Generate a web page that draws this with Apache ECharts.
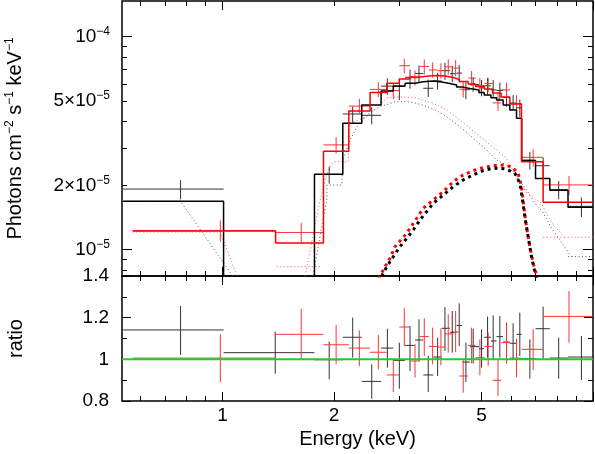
<!DOCTYPE html>
<html>
<head>
<meta charset="utf-8">
<script src="https://cdn.jsdelivr.net/npm/echarts@6.0.0/dist/echarts.min.js"></script>
<style>
  html, body { margin: 0; padding: 0; background: #fff; }
  #chart { width: 595px; height: 454px; }
</style>
</head>
<body>
<div id="chart"></div>
<script>
// axis ranges (keV, photons cm^-2 s^-1 keV^-1, ratio)
const energyRange = [0.535, 10];
const fluxRange = [7.52e-6, 1.471e-4];
const ratioRange = [0.8, 1.4];

// tick marks / labels
const energyMajor = [1, 10];
const energyMinor = [0.6, 0.7, 0.8, 0.9, 2, 3, 4, 5, 6, 7, 8, 9];
const energyBottomMajor = [1, 2, 5, 10];
const energyBottomMinor = [0.6, 0.7, 0.8, 0.9, 3, 4, 6, 7, 8, 9];
const energyLabels = [1, 2, 5];
const fluxMajor = [1e-5, 1e-4];
const fluxMinor = [8e-6, 9e-6, 2e-5, 3e-5, 4e-5, 5e-5, 6e-5, 7e-5, 8e-5, 9e-5];
const fluxLabels = [1e-5, 2e-5, 5e-5, 1e-4];

// spectrum 1 (black)
const blackEdges = [0.539, 1.006, 1.770, 2.111, 2.375, 2.678, 2.890, 3.108, 3.307, 3.482, 3.704, 3.903, 4.109, 4.283,
  4.435, 4.652, 4.919, 5.084, 5.300, 5.490, 5.720, 5.963, 6.216, 6.420, 6.996, 7.645, 8.561, 10.0];
const blackCentre = [0.770, 1.387, 1.940, 2.245, 2.527, 2.785, 3.000, 3.206, 3.390, 3.591, 3.806, 3.984, 4.168, 4.353,
  4.538, 4.748, 5.002, 5.192, 5.376, 5.604, 5.842, 6.086, 6.345, 6.754, 7.334, 8.079, 9.305];
const blackModel = [1.687e-5, 5.5e-6, 2.26e-5, 3.92e-5, 4.78e-5, 5.56e-5, 5.87e-5, 6.04e-5, 6.15e-5, 6.19e-5, 6.13e-5,
  6.03e-5, 5.93e-5, 5.80e-5, 5.71e-5, 5.62e-5, 5.47e-5, 5.32e-5, 5.17e-5, 5.04e-5, 4.78e-5, 4.53e-5, 4.14e-5,
  2.62e-5, 2.16e-5, 1.90e-5, 1.58e-5];
const blackFlux = [1.925e-5, 5.68e-6, 2.255e-5, 4.336e-5, 4.273e-5, 5.86e-5, 5.841e-5, 6.445e-5, 6.722e-5, 5.726e-5,
  6.197e-5, 6.928e-5, 6.701e-5, 6.745e-5, 5.636e-5, 5.963e-5, 5.749e-5, 5.884e-5, 5.625e-5, 5.589e-5, 5.177e-5,
  4.879e-5, 4.637e-5, 2.628e-5, 2.478e-5, 1.911e-5, 1.597e-5];
const blackFluxLo = [1.722e-5, 5.12e-6, 2.043e-5, 3.951e-5, 3.877e-5, 5.338e-5, 5.042e-5, 5.702e-5, 6.101e-5, 5.218e-5,
  5.64e-5, 6.271e-5, 6.12e-5, 6.171e-5, 5.088e-5, 5.508e-5, 5.251e-5, 5.363e-5, 5.17e-5, 5.08e-5, 4.689e-5,
  4.516e-5, 4.206e-5, 2.376e-5, 2.166e-5, 1.723e-5, 1.424e-5];
const blackFluxHi = [2.119e-5, 6.23e-6, 2.452e-5, 4.704e-5, 4.665e-5, 6.377e-5, 6.34e-5, 7.006e-5, 7.331e-5, 6.289e-5,
  6.768e-5, 7.544e-5, 7.306e-5, 7.36e-5, 6.167e-5, 6.446e-5, 6.258e-5, 6.411e-5, 6.261e-5, 6.088e-5, 5.621e-5,
  5.314e-5, 5.067e-5, 2.872e-5, 2.706e-5, 2.098e-5, 1.757e-5];
const blackRatio = [1.141, 1.032, 0.998, 1.106, 0.894, 1.054, 0.995, 1.067, 1.093, 0.925, 1.011, 1.149, 1.130, 1.163,
  0.987, 1.061, 1.051, 1.106, 1.088, 1.109, 1.083, 1.077, 1.120, 1.003, 1.147, 1.006, 1.011];
const blackRatioLo = [1.021, 0.931, 0.904, 1.008, 0.811, 0.960, 0.859, 0.944, 0.992, 0.843, 0.920, 1.040, 1.032, 1.064,
  0.891, 0.980, 0.960, 1.008, 1.000, 1.008, 0.981, 0.997, 1.016, 0.907, 1.003, 0.907, 0.901];
const blackRatioHi = [1.256, 1.133, 1.085, 1.200, 0.976, 1.147, 1.080, 1.160, 1.192, 1.016, 1.104, 1.251, 1.232, 1.269,
  1.080, 1.147, 1.144, 1.205, 1.211, 1.208, 1.176, 1.173, 1.224, 1.096, 1.253, 1.104, 1.112];

// spectrum 2 (red)
const redEdges = [0.572, 1.390, 1.872, 2.191, 2.501, 2.775, 3.000, 3.206, 3.411, 3.607, 3.806, 3.984, 4.194, 4.353,
  4.603, 4.819, 5.090, 5.360, 5.650, 5.963, 6.410, 7.334, 10.0];
const redCentre = [0.986, 1.630, 2.025, 2.340, 2.633, 2.890, 3.094, 3.307, 3.503, 3.690, 3.885, 4.066, 4.257, 4.462,
  4.701, 4.950, 5.212, 5.540, 5.842, 6.216, 6.893, 8.614];
const redModel = [1.224e-5, 1.075e-5, 2.90e-5, 4.48e-5, 5.47e-5, 6.04e-5, 6.33e-5, 6.47e-5, 6.54e-5, 6.57e-5, 6.54e-5,
  6.43e-5, 6.30e-5, 6.16e-5, 5.99e-5, 5.84e-5, 5.68e-5, 5.44e-5, 5.21e-5, 4.83e-5, 2.59e-5, 1.67e-5];
const redFlux = [1.231e-5, 1.204e-5, 3.103e-5, 4.722e-5, 5.656e-5, 5.587e-5, 7.311e-5, 6.418e-5, 7.253e-5, 6.977e-5,
  6.926e-5, 7.214e-5, 7.125e-5, 5.667e-5, 6.391e-5, 5.887e-5, 6.032e-5, 4.891e-5, 5.627e-5, 4.859e-5, 2.714e-5, 2.014e-5];
const redFluxLo = [1.091e-5, 1.075e-5, 2.830e-5, 4.337e-5, 5.207e-5, 5.092e-5, 6.735e-5, 5.901e-5, 6.645e-5, 6.412e-5,
  6.350e-5, 6.636e-5, 6.521e-5, 5.174e-5, 5.876e-5, 5.390e-5, 5.498e-5, 4.483e-5, 5.111e-5, 4.419e-5, 2.458e-5, 1.804e-5];
const redFluxHi = [1.371e-5, 1.336e-5, 3.379e-5, 5.103e-5, 6.110e-5, 6.058e-5, 7.887e-5, 6.936e-5, 7.828e-5, 7.569e-5,
  7.514e-5, 7.819e-5, 7.762e-5, 6.160e-5, 6.900e-5, 6.401e-5, 6.407e-5, 5.440e-5, 6.085e-5, 5.308e-5, 2.963e-5, 2.218e-5];
const redRatio = [1.006, 1.120, 1.070, 1.054, 1.034, 0.925, 1.155, 0.992, 1.109, 1.062, 1.059, 1.122, 1.131, 0.920,
  1.067, 1.008, 1.062, 0.899, 1.080, 1.006, 1.048, 1.206];
const redRatioLo = [0.891, 1.000, 0.976, 0.968, 0.952, 0.843, 1.064, 0.912, 1.016, 0.976, 0.971, 1.032, 1.035, 0.840,
  0.981, 0.923, 0.968, 0.824, 0.981, 0.915, 0.949, 1.080];
const redRatioHi = [1.120, 1.243, 1.165, 1.139, 1.117, 1.003, 1.246, 1.072, 1.197, 1.152, 1.149, 1.216, 1.232, 1.000,
  1.152, 1.096, 1.128, 1.000, 1.168, 1.099, 1.144, 1.328];

// model components [keV, flux]
const blackSoft = [[0.539, 1.687e-5], [0.770, 1.687e-5], [1.006, 8.66e-6], [1.387, 3.9e-6]];
const redSoft = [[0.572, 1.21e-5], [0.986, 1.21e-5], [1.093, 7.5e-6], [1.39, 2.5e-6]];
const blackCont = [[1.70, 5.4e-6], [1.756, 7.52e-6], [1.834, 1.172e-5], [1.912, 1.711e-5], [1.912, 2.01e-5],
  [2.098, 2.01e-5], [2.115, 2.637e-5], [2.209, 3.273e-5], [2.321, 3.849e-5], [2.501, 4.43e-5], [2.693, 4.726e-5],
  [2.916, 4.935e-5], [3.108, 4.962e-5], [3.307, 4.882e-5], [3.531, 4.726e-5], [3.757, 4.528e-5], [4.026, 4.21e-5],
  [4.372, 3.779e-5], [4.74, 3.344e-5], [5.161, 2.937e-5], [5.49, 2.637e-5], [5.842, 2.498e-5], [6.216, 2.194e-5],
  [6.62, 1.907e-5], [6.96, 1.656e-5], [7.31, 1.503e-5], [7.725, 1.264e-5], [8.24, 1.075e-5], [8.75, 9.27e-6]];
const blackContTail = [[8.561, 9.27e-6], [10.0, 9.27e-6]];
const redContLow = [[1.401, 8.32e-6], [1.853, 8.32e-6]];
const redCont = [[1.62, 5.6e-6], [1.671, 7.52e-6], [1.756, 1.172e-5], [1.834, 1.711e-5], [1.915, 2.291e-5],
  [1.988, 2.588e-5], [2.18, 2.588e-5], [2.209, 3.934e-5], [2.45, 4.2e-5], [2.775, 5.154e-5], [3.013, 5.226e-5],
  [3.342, 5.154e-5], [3.694, 4.882e-5], [4.026, 4.528e-5], [4.372, 4.063e-5], [4.95, 3.392e-5], [5.49, 2.937e-5],
  [5.842, 2.694e-5], [6.066, 2.367e-5], [6.629, 1.846e-5], [7.256, 1.651e-5], [7.56, 1.428e-5], [7.887, 1.282e-5],
  [8.386, 1.143e-5]];
const redContTail = [[7.334, 1.143e-5], [10.0, 1.143e-5]];
const blackHard = [[2.62, 6.5e-6], [2.689, 7.52e-6], [2.775, 8.32e-6], [2.89, 9.27e-6], [3.013, 1.033e-5],
  [3.272, 1.238e-5], [3.411, 1.378e-5], [3.704, 1.651e-5], [3.942, 1.805e-5], [4.194, 1.976e-5], [4.462, 2.125e-5],
  [4.748, 2.243e-5], [5.052, 2.35e-5], [5.376, 2.411e-5], [5.663, 2.411e-5], [5.902, 2.367e-5], [6.151, 2.284e-5],
  [6.345, 2.05e-5], [6.453, 1.711e-5], [6.546, 1.428e-5], [6.682, 1.151e-5], [6.823, 9.27e-6], [6.965, 7.88e-6],
  [7.05, 7.0e-6]];
const redHard = [[2.6, 6.8e-6], [2.661, 7.52e-6], [2.745, 8.32e-6], [2.831, 9.11e-6], [2.921, 1.033e-5],
  [3.141, 1.194e-5], [3.342, 1.404e-5], [3.482, 1.564e-5], [3.704, 1.711e-5], [3.942, 1.872e-5], [4.194, 2.086e-5],
  [4.462, 2.243e-5], [4.748, 2.35e-5], [5.052, 2.427e-5], [5.376, 2.48e-5], [5.72, 2.498e-5], [6.027, 2.453e-5],
  [6.28, 2.284e-5], [6.412, 1.976e-5], [6.504, 1.591e-5], [6.614, 1.282e-5], [6.754, 1.033e-5], [6.893, 8.63e-6],
  [7.01, 7.77e-6], [7.1, 7.0e-6]];
const unity = [[0.535, 1], [10, 1]];

const lg = Math.log10;
const same = v => v;
const FONT = '"Liberation Sans", Arial, Helvetica, sans-serif';
const tickStyle = { color: '#000', width: 1 };
const LABEL_SIZE = 19;
const TITLE_SIZE = 20;
const SUP_SIZE = 12;

// both axes are drawn in log10 space so ticks can sit anywhere
const xMin = lg(energyRange[0]), xMax = lg(energyRange[1]);
const fMin = lg(fluxRange[0]), fMax = lg(fluxRange[1]);

function stepLine(edges, vals) {
  const pts = [];
  vals.forEach((v, i) => {
    pts.push([lg(edges[i]), lg(v)], [lg(edges[i + 1]), lg(v)]);
  });
  return pts;
}
function logPts(arr) { return arr.map(p => [lg(p[0]), lg(p[1])]); }
function crossData(edges, centre, val, lo, hi, tf) {
  return centre.map((c, i) => [lg(edges[i]), lg(edges[i + 1]), lg(c), tf(val[i]), tf(lo[i]), tf(hi[i])]);
}

function xAxis(grid, position, ticks, len, labels, name) {
  const ax = {
    type: 'value', gridIndex: grid, position: position, min: xMin, max: xMax,
    axisLine: { show: false, onZero: false },
    splitLine: { show: false },
    axisTick: { show: true, inside: true, length: len, lineStyle: tickStyle, customValues: ticks.map(lg) },
    axisLabel: { show: false }
  };
  if (labels) {
    ax.axisLabel = {
      show: true, customValues: labels.map(lg), margin: 5,
      formatter: v => String(Math.round(Math.pow(10, v))),
      color: '#000', fontSize: LABEL_SIZE, fontFamily: FONT
    };
  }
  if (name) {
    ax.name = name;
    ax.nameLocation = 'middle';
    ax.nameGap = 28;
    ax.nameTextStyle = { color: '#000', fontSize: TITLE_SIZE, fontFamily: FONT };
  }
  return ax;
}

function fluxAxis(position, ticks, len, labels, name) {
  const ax = {
    type: 'value', gridIndex: 0, position: position, min: fMin, max: fMax,
    axisLine: { show: false, onZero: false },
    splitLine: { show: false },
    axisTick: { show: true, inside: true, length: len, lineStyle: tickStyle, customValues: ticks.map(lg) },
    axisLabel: { show: false }
  };
  if (labels) {
    ax.axisLabel = {
      show: true, customValues: labels.map(lg), margin: 12,
      formatter: v => {
        const e = Math.floor(v + 1e-6);
        const m = Math.round(Math.pow(10, v - e));
        return (m === 1 ? '{b|10}' : '{b|' + m + '×10}') + '{s|−' + (-e) + '}';
      },
      rich: {
        b: { fontSize: LABEL_SIZE, fontFamily: FONT, color: '#000', lineHeight: 22 },
        s: { fontSize: SUP_SIZE, fontFamily: FONT, color: '#000', lineHeight: 17, verticalAlign: 'top' }
      }
    };
  }
  if (name) {
    ax.name = name;
    ax.nameLocation = 'middle';
    ax.nameGap = 96;
    ax.nameRotate = 90;
    ax.nameTextStyle = {
      rich: {
        n: { fontSize: TITLE_SIZE, fontFamily: FONT, color: '#000', lineHeight: 22 },
        s: { fontSize: SUP_SIZE, fontFamily: FONT, color: '#000', lineHeight: 17, verticalAlign: 'top' }
      }
    };
  }
  return ax;
}

function ratioAxis(position, labels) {
  const ax = {
    type: 'value', gridIndex: 1, position: position, min: ratioRange[0], max: ratioRange[1], interval: 0.2,
    axisLine: { show: false, onZero: false },
    splitLine: { show: false },
    axisTick: { show: true, inside: true, length: 9, lineStyle: tickStyle },
    minorTick: { show: true, splitNumber: 2, length: 5, lineStyle: tickStyle },
    axisLabel: { show: false }
  };
  if (labels) {
    ax.axisLabel = {
      show: true, margin: 13, showMinLabel: true, showMaxLabel: true,
      formatter: v => String(+v.toFixed(2)),
      color: '#000', fontSize: LABEL_SIZE, fontFamily: FONT
    };
    ax.name = 'ratio';
    ax.nameLocation = 'middle';
    ax.nameGap = 96;
    ax.nameRotate = 90;
    ax.nameTextStyle = { color: '#000', fontSize: TITLE_SIZE, fontFamily: FONT };
  }
  return ax;
}

function line(data, xi, yi, color, width, type, z) {
  return {
    type: 'line', xAxisIndex: xi, yAxisIndex: yi, data: data,
    showSymbol: false, symbol: 'none', clip: true, silent: true, z: z,
    lineStyle: { color: color, width: width, type: type, cap: 'butt' }
  };
}

function renderCross(params, api) {
  const lo = api.coord([api.value(0), api.value(3)]);
  const hi = api.coord([api.value(1), api.value(3)]);
  const top = api.coord([api.value(2), api.value(5)]);
  const bot = api.coord([api.value(2), api.value(4)]);
  const style = { stroke: api.visual('color'), lineWidth: 1 };
  return {
    type: 'group',
    children: [
      { type: 'line', shape: { x1: lo[0], y1: lo[1], x2: hi[0], y2: hi[1] }, style: style },
      { type: 'line', shape: { x1: top[0], y1: top[1], x2: bot[0], y2: bot[1] }, style: style }
    ]
  };
}
function crosses(data, xi, yi, color) {
  return {
    type: 'custom', xAxisIndex: xi, yAxisIndex: yi, data: data, clip: true, silent: true, z: 3,
    itemStyle: { color: color },
    encode: { x: [0, 1, 2], y: [3, 4, 5] },
    renderItem: renderCross
  };
}

const thinDot = [1, 2.5];
const thickDot = [3, 4];

const chart = echarts.init(document.getElementById('chart'), null, { renderer: 'canvas' });
chart.setOption({
  animation: false,
  backgroundColor: '#fff',
  grid: [
    { left: 122, right: 2, top: 1, height: 275, show: true, borderColor: '#000', borderWidth: 1.5,
      backgroundColor: 'transparent', outerBoundsMode: 'none' },
    { left: 122, right: 2, top: 276, height: 125, show: true, borderColor: '#000', borderWidth: 1.5,
      backgroundColor: 'transparent', outerBoundsMode: 'none' }
  ],
  xAxis: [
    xAxis(0, 'bottom', energyMajor, 9),
    xAxis(0, 'bottom', energyMinor, 5),
    xAxis(0, 'top', energyMajor, 9),
    xAxis(0, 'top', energyMinor, 5),
    xAxis(1, 'bottom', energyBottomMajor, 9),
    xAxis(1, 'bottom', energyBottomMinor, 5, energyLabels, 'Energy (keV)'),
    xAxis(1, 'top', energyMajor, 9),
    xAxis(1, 'top', energyMinor, 5)
  ],
  yAxis: [
    fluxAxis('left', fluxMajor, 10, fluxLabels, '{n|Photons cm}{s|−2}{n| s}{s|−1}{n| keV}{s|−1}'),
    fluxAxis('left', fluxMinor, 5),
    fluxAxis('right', fluxMajor, 10),
    fluxAxis('right', fluxMinor, 5),
    ratioAxis('left', true),
    ratioAxis('right', false)
  ],
  series: [
    line(logPts(blackSoft), 0, 0, '#555', 1, thinDot, 2),
    line(logPts(redSoft), 0, 0, '#f55', 1, thinDot, 2),
    line(logPts(blackCont), 0, 0, '#555', 1, thinDot, 2),
    line(logPts(blackContTail), 0, 0, '#555', 1, thinDot, 2),
    line(logPts(redContLow), 0, 0, '#f55', 1, thinDot, 2),
    line(logPts(redCont), 0, 0, '#f55', 1, thinDot, 2),
    line(logPts(redContTail), 0, 0, '#f55', 1, thinDot, 2),
    line(logPts(redHard), 0, 0, '#f00', 3, thickDot, 2),
    line(logPts(blackHard), 0, 0, '#000', 3, thickDot, 2),
    crosses(crossData(blackEdges, blackCentre, blackFlux, blackFluxLo, blackFluxHi, lg), 0, 0, '#333'),
    crosses(crossData(redEdges, redCentre, redFlux, redFluxLo, redFluxHi, lg), 0, 0, '#f33'),
    line(stepLine(blackEdges, blackModel), 0, 0, '#000', 1.5, 'solid', 4),
    line(stepLine(redEdges, redModel), 0, 0, '#f00', 1.5, 'solid', 4),
    crosses(crossData(blackEdges, blackCentre, blackRatio, blackRatioLo, blackRatioHi, same), 4, 4, '#333'),
    crosses(crossData(redEdges, redCentre, redRatio, redRatioLo, redRatioHi, same), 4, 4, '#f33'),
    line(unity.map(p => [lg(p[0]), p[1]]), 4, 4, '#2c2', 2, 'solid', 4)
  ]
});
</script>
</body>
</html>
